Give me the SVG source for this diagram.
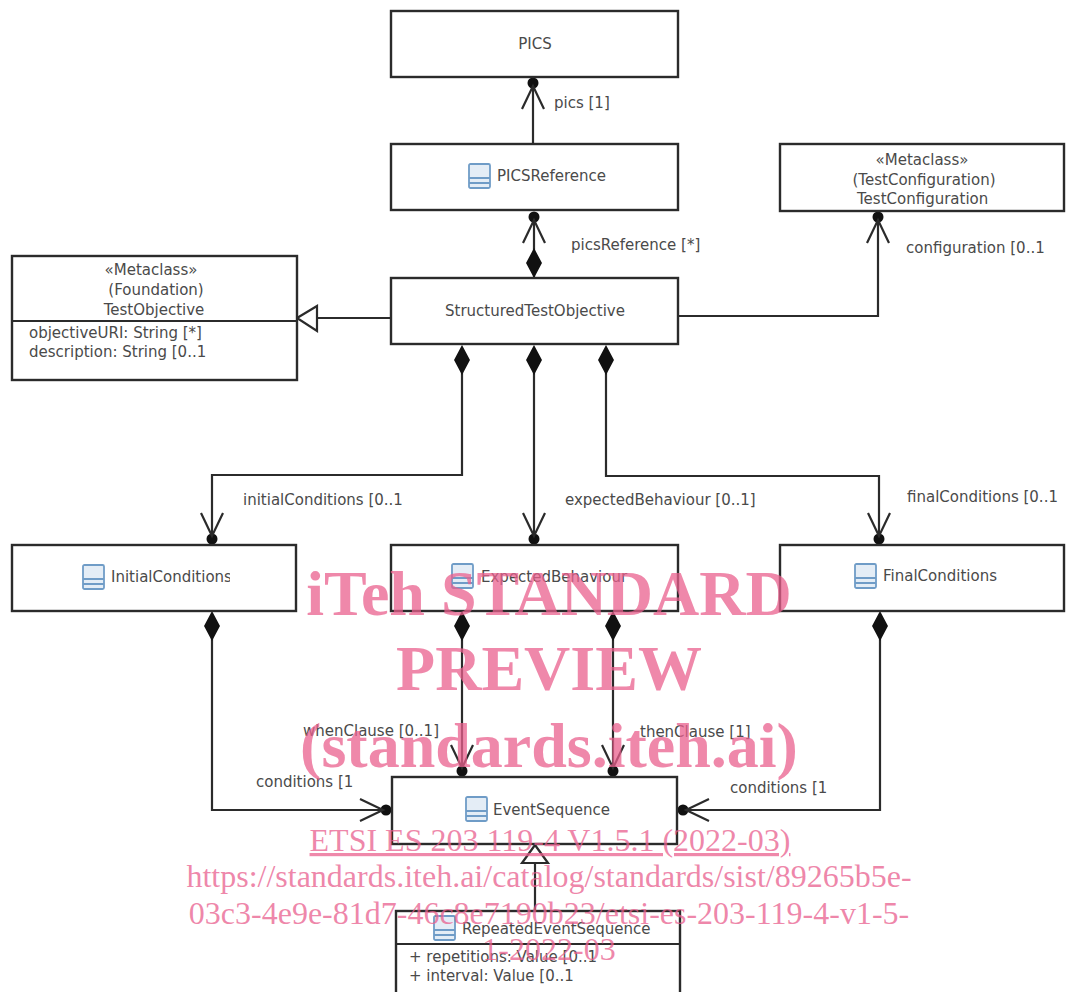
<svg xmlns="http://www.w3.org/2000/svg" width="1066" height="992" viewBox="0 0 1066 992">
<style>
.box{fill:#fff;stroke:#2b2b2b;stroke-width:2.4}
.ln{fill:none;stroke:#2b2b2b;stroke-width:2.2}
.t{font-family:"DejaVu Sans","Liberation Sans",sans-serif;font-size:15px;fill:#4a4a4a}
.m{text-anchor:middle}
.ic{fill:#e4edf6;stroke:#6f9cc7;stroke-width:1.8}
.w{font-family:"Liberation Serif",serif;fill:#e9608e;fill-opacity:.75;text-anchor:middle}
.wb{font-size:64px;font-weight:bold}
.wr{font-size:32px}
</style>
<defs>
<g id="ic"><rect class="ic" x="0" y="0" width="21" height="24" rx="1.5"/><path class="ic" fill="none" d="M0 14H21M0 19H21"/></g>
<g id="dia"><path d="M0 0L8 -15L0 -30L-8 -15Z" fill="#111"/></g>
<g id="arr"><circle cx="0" cy="-6" r="5.5" fill="#111"/><path class="ln" stroke-width="2.6" d="M-11 -32L0 -9L11 -32"/></g>
<clipPath id="c1"><rect x="780" y="144" width="212" height="70"/></clipPath>
<clipPath id="c2"><rect x="100" y="545" width="130" height="66"/></clipPath>
<clipPath id="c3"><rect x="870" y="545" width="129" height="66"/></clipPath>
</defs>
<g id="connectors">
<path class="ln" d="M533 144V80"/>
<path class="ln" d="M534 278V212"/>
<path class="ln" d="M678 316H878V214"/>
<path class="ln" d="M391 318H317"/>
<path class="ln" d="M462 350V475H212V543"/>
<path class="ln" d="M534 350V543"/>
<path class="ln" d="M606 350V476H879V543"/>
<path class="ln" d="M212 618V810H390"/>
<path class="ln" d="M462 618V775"/>
<path class="ln" d="M613 618V775"/>
<path class="ln" d="M880 618V810H679"/>
<path class="ln" d="M535 911V864"/>
<use href="#arr" transform="translate(533 77) rotate(180)"/>
<use href="#arr" transform="translate(534 211) rotate(180)"/>
<use href="#dia" transform="translate(534 278)"/>
<use href="#arr" transform="translate(878 211) rotate(180)"/>
<path d="M297 318L317 306V331Z" fill="#fff" stroke="#2b2b2b" stroke-width="2.2"/>
<use href="#dia" transform="translate(462 375)"/>
<use href="#dia" transform="translate(534 375)"/>
<use href="#dia" transform="translate(606 375)"/>
<use href="#arr" transform="translate(212 545)"/>
<use href="#arr" transform="translate(534 545)"/>
<use href="#arr" transform="translate(879 545)"/>
<use href="#dia" transform="translate(212 641)"/>
<use href="#dia" transform="translate(462 641)"/>
<use href="#dia" transform="translate(613 641)"/>
<use href="#dia" transform="translate(880 641)"/>
<use href="#arr" transform="translate(462 777)"/>
<use href="#arr" transform="translate(613 777)"/>
<use href="#arr" transform="translate(392 810) rotate(-90)"/>
<use href="#arr" transform="translate(677 810) rotate(90)"/>
<path d="M535 845L522 863H548Z" fill="#fff" stroke="#2b2b2b" stroke-width="2.2"/>
</g>
<g id="labels">
<text class="t" x="554" y="108">pics [1]</text>
<text class="t" x="571" y="250">picsReference [*]</text>
<text class="t" x="906" y="253">configuration [0..1</text>
<text class="t" x="243" y="505">initialConditions [0..1</text>
<text class="t" x="565" y="505">expectedBehaviour [0..1]</text>
<text class="t" x="907" y="502">finalConditions [0..1</text>
<text class="t" x="303" y="736">whenClause [0..1]</text>
<text class="t" x="640" y="737">thenClause [1]</text>
<text class="t" x="256" y="787">conditions [1</text>
<text class="t" x="730" y="793">conditions [1</text>
</g>
<g id="pics"><rect class="box" x="391" y="11" width="287" height="66"/><text class="t m" x="535" y="49">PICS</text></g>
<g id="picsReference"><rect class="box" x="391" y="144" width="287" height="66"/><use href="#ic" x="469" y="164"/><text class="t" x="497" y="181">PICSReference</text></g>
<g id="structuredTestObjective"><rect class="box" x="391" y="278" width="287" height="66"/><text class="t m" x="535" y="316">StructuredTestObjective</text></g>
<g id="testConfiguration"><rect class="box" x="780" y="144" width="284" height="67"/>
<text class="t m" x="922" y="165">«Metaclass»</text><text class="t m" x="924" y="185">(TestConfiguration)</text><text class="t" x="857" y="204" clip-path="url(#c1)">TestConfiguration</text></g>
<g id="testObjective"><rect class="box" x="12" y="256" width="285" height="124"/><path class="ln" d="M12 321H297"/>
<text class="t m" x="151" y="275">«Metaclass»</text><text class="t m" x="156" y="295">(Foundation)</text><text class="t m" x="154" y="315">TestObjective</text>
<text class="t" x="29" y="338">objectiveURI: String [*]</text><text class="t" x="29" y="357">description: String [0..1</text></g>
<g id="initialConditions"><rect class="box" x="12" y="545" width="284" height="66"/><use href="#ic" x="83" y="565"/><text class="t" x="111" y="582" clip-path="url(#c2)">InitialConditions</text></g>
<g id="expectedBehaviour"><rect class="box" x="391" y="545" width="287" height="66"/><use href="#ic" x="452" y="564"/><text class="t" x="481" y="582">ExpectedBehaviour</text></g>
<g id="finalConditions"><rect class="box" x="780" y="545" width="284" height="66"/><use href="#ic" x="855" y="564"/><text class="t" x="883" y="581" clip-path="url(#c3)">FinalConditions</text></g>
<g id="eventSequence"><rect class="box" x="392" y="777" width="285" height="67"/><use href="#ic" x="466" y="797"/><text class="t" x="493" y="815">EventSequence</text></g>
<g id="repeatedEventSequence"><rect class="box" x="396" y="911" width="284" height="90"/><path class="ln" d="M396 944H680"/><use href="#ic" x="434" y="916"/><text class="t" x="462" y="934">RepeatedEventSequence</text>
<text class="t" x="409" y="962">+ repetitions: Value [0..1</text><text class="t" x="409" y="981">+ interval: Value [0..1</text></g>
<g id="watermark">
<text class="w wb" x="549" y="615">iTeh STANDARD</text>
<text class="w wb" x="549" y="690">PREVIEW</text>
<text class="w wb" x="549" y="767">(standards.iteh.ai)</text>
<text class="w wr" x="550" y="851" text-decoration="underline">ETSI ES 203 119-4 V1.5.1 (2022-03)</text>
<text class="w wr" x="549" y="887">https://standards.iteh.ai/catalog/standards/sist/89265b5e-</text>
<text class="w wr" x="549" y="924">03c3-4e9e-81d7-46c8e7190b23/etsi-es-203-119-4-v1-5-</text>
<text class="w wr" x="549" y="960">1-2022-03</text>
</g>
</svg>
